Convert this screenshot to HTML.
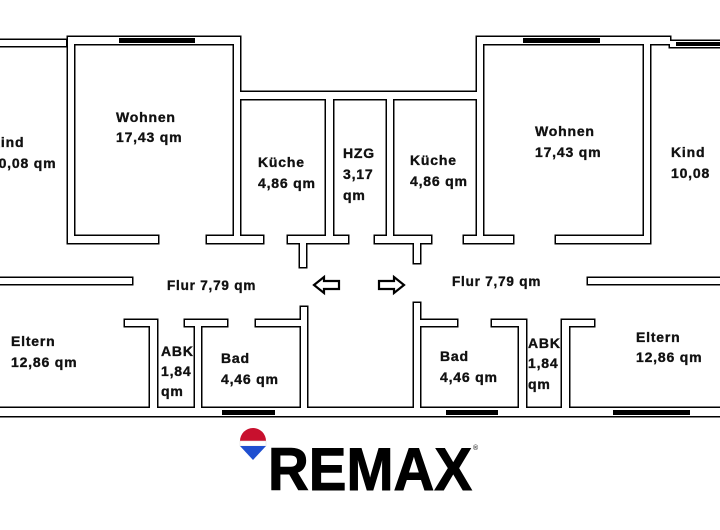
<!DOCTYPE html>
<html><head><meta charset="utf-8"><style>
html,body{margin:0;padding:0;background:#fff;}
svg{display:block;}
text{font-family:"Liberation Sans",Arial,sans-serif;font-weight:bold;font-size:14px;letter-spacing:0.8px;fill:#111;stroke:#111;stroke-width:0.35px;}
</style></head><body>
<svg width="720" height="530" viewBox="0 0 720 530" xmlns="http://www.w3.org/2000/svg">
<rect width="720" height="530" fill="#fff"/>
<defs>
<g id="walls">
<rect x="0" y="40" width="66" height="6"/>
<rect x="68" y="37" width="172" height="7"/>
<rect x="68" y="37" width="6" height="206"/>
<rect x="234" y="37" width="6" height="206"/>
<rect x="234" y="92" width="249" height="7"/>
<rect x="326" y="92" width="7" height="151"/>
<rect x="387" y="92" width="6" height="151"/>
<rect x="477" y="37" width="6" height="206"/>
<rect x="477" y="37" width="193" height="7"/>
<rect x="644" y="37" width="6" height="206"/>
<rect x="670" y="41" width="52" height="6"/>
<rect x="68" y="236" width="90" height="7"/>
<rect x="207" y="236" width="56" height="7"/>
<rect x="288" y="236" width="60" height="7"/>
<rect x="300" y="236" width="6" height="31"/>
<rect x="375" y="236" width="56" height="7"/>
<rect x="414" y="236" width="6" height="27"/>
<rect x="464" y="236" width="49" height="7"/>
<rect x="556" y="236" width="94" height="7"/>
<rect x="-2" y="278" width="134" height="6"/>
<rect x="588" y="278" width="134" height="6"/>
<rect x="125" y="320" width="32" height="6"/>
<rect x="150" y="320" width="7" height="91"/>
<rect x="185" y="320" width="42" height="6"/>
<rect x="195" y="320" width="6" height="91"/>
<rect x="256" y="320" width="51" height="6"/>
<rect x="301" y="307" width="6" height="104"/>
<rect x="414" y="303" width="6" height="108"/>
<rect x="414" y="320" width="43" height="6"/>
<rect x="492" y="320" width="34" height="6"/>
<rect x="519" y="320" width="7" height="91"/>
<rect x="562" y="320" width="32" height="6"/>
<rect x="562" y="320" width="7" height="91"/>
<rect x="-2" y="408" width="724" height="8"/>
</g>
</defs>
<use href="#walls" fill="#000" stroke="#000" stroke-width="3"/>
<use href="#walls" fill="#fff" stroke="none"/>
<g fill="#000">
<rect x="119" y="38" width="76" height="5"/>
<rect x="523" y="38" width="77" height="5"/>
<rect x="676" y="42" width="44" height="4"/>
<rect x="222" y="410" width="53" height="5"/>
<rect x="446" y="410" width="52" height="5"/>
<rect x="613" y="410" width="77" height="5"/>
</g>
<g fill="none" stroke="#000" stroke-width="2.2">
<polygon points="314,285 324,277 324,281 339,281 339,289 324,289 324,293"/>
<polygon points="404,285 394,277 394,281 379,281 379,289 394,289 394,293"/>
</g>
<text x="-10" y="147">Kind</text>
<text x="-10" y="168">10,08 qm</text>
<text x="116" y="122">Wohnen</text>
<text x="116" y="142">17,43 qm</text>
<text x="258" y="167">Küche</text>
<text x="258" y="188">4,86 qm</text>
<text x="343" y="158">HZG</text>
<text x="343" y="179">3,17</text>
<text x="343" y="200">qm</text>
<text x="410" y="165">Küche</text>
<text x="410" y="186">4,86 qm</text>
<text x="535" y="136">Wohnen</text>
<text x="535" y="157">17,43 qm</text>
<text x="671" y="157">Kind</text>
<text x="671" y="178">10,08</text>
<text x="167" y="290" style="font-size:13.5px">Flur 7,79 qm</text>
<text x="452" y="286" style="font-size:13.5px">Flur 7,79 qm</text>
<text x="11" y="346">Eltern</text>
<text x="11" y="367">12,86 qm</text>
<text x="161" y="356">ABK</text>
<text x="161" y="376">1,84</text>
<text x="161" y="396">qm</text>
<text x="221" y="363">Bad</text>
<text x="221" y="384">4,46 qm</text>
<text x="440" y="361">Bad</text>
<text x="440" y="382">4,46 qm</text>
<text x="528" y="348">ABK</text>
<text x="528" y="368">1,84</text>
<text x="528" y="389">qm</text>
<text x="636" y="342">Eltern</text>
<text x="636" y="362">12,86 qm</text>
<!-- logo -->
<path d="M240,441 A13,13 0 0 1 266,441 Z" fill="#c8102e"/>
<rect x="240" y="441" width="26" height="5" fill="#fff" stroke="#ddd" stroke-width="0.5"/>
<path d="M240,446 L266,446 L253,460 Z" fill="#1f4fd0"/>
<text x="268" y="490" textLength="204" lengthAdjust="spacingAndGlyphs" style="font-size:60px;font-weight:900;letter-spacing:0;fill:#000;stroke:#000;stroke-width:1px">REMAX</text>
<text x="473" y="450" style="font-size:7px;fill:#444;stroke:none;letter-spacing:0">®</text>
</svg>
</body></html>
